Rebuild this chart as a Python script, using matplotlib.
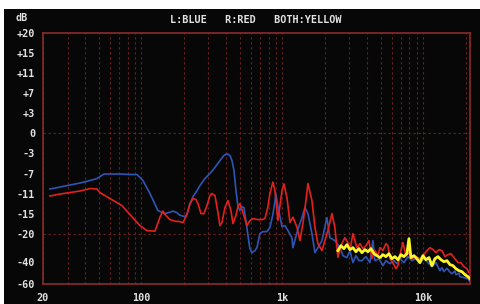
import matplotlib

matplotlib.use("Agg")
import matplotlib.pyplot as plt
import numpy as np
from matplotlib.patches import Rectangle
from matplotlib.ticker import FixedLocator, LogLocator, NullFormatter

# dB scale of the analyser: irregular steps
DB_TICKS = [20, 15, 11, 7, 3, 0, -3, -7, -11, -15, -20, -40, -60]
DB_LABELS = ["+20", "+15", "+11", "+7", "+3", "0", "-3", "-7", "-11", "-15", "-20", "-40", "-60"]
TICK_ROWS = [0, 1, 2, 3, 4, 5, 6, 7, 8, 9, 10, 11.4, 12.5]

FREQ_TICKS = [20, 100, 1000, 10000]
FREQ_LABELS = ["20", "100", "1k", "10k"]

# left channel (blue)
left_freq = [22.5, 26.5, 31.1, 36.8, 43.3, 48.5, 54.4, 60, 70.6, 83.2, 93.3, 102.9, 115.4, 131.4,
             147, 157, 168, 179, 188, 204, 211, 222, 233, 249, 261, 283, 307, 333, 362, 386, 406,
             426, 440, 455, 470, 485, 501, 518, 535, 553, 572, 590, 610, 641, 662, 695, 730, 779,
             818, 859, 903, 933, 997, 1046, 1099, 1172, 1192, 1273, 1380, 1450, 1523, 1626, 1707,
             1793, 1915, 2076, 2180, 2366, 2570,
             2697, 2879, 3024, 3176, 3335, 3503, 3679, 3928, 4193, 4403, 4550, 4857, 5185, 5445,
             5813, 6206, 6518, 6845, 7307, 7801, 8328, 8890, 9491, 10131, 10816, 11547, 12327,
             13160, 13597, 14048, 14754, 15496, 16011, 16815, 17091, 17950, 18247, 19479, 20794,
             21486]
left_db = [-10.1, -9.7, -9.3, -8.9, -8.4, -8.0, -7.1, -7.1, -7.1, -7.2, -7.2, -8.4, -11.0, -14.4,
           -15.0, -14.8, -14.5, -14.8, -15.4, -15.75, -15.25, -13.0, -11.6, -10.4, -9.4, -8.0, -7.0,
           -5.8, -4.4, -3.4, -3.06, -3.4, -4.4, -6.4, -10.4, -13.4, -14.4, -13.6, -13.8, -16.75,
           -21.4, -30.7, -33.6, -32.1, -30.0, -20.0, -19.5, -19.5, -18.5, -15.25, -11.2, -13.6,
           -18.25, -18.0, -19.25, -22.9, -30.0, -19.75, -16.0, -13.8, -15.0, -20.0, -33.6, -30.0,
           -25.0, -16.0, -22.9, -25.0, -30.0,
           -35.7, -37.1, -32.1, -40.9, -35.7, -39.3, -39.3, -36.4, -40.9, -25.0, -39.3, -37.9,
           -43.6, -39.3, -41.8, -39.3, -41.8, -37.9, -40.9, -36.4, -39.3, -37.9, -40.9, -37.9,
           -40.9, -44.5, -40.9, -48.2, -45.5, -49.0, -46.0, -49.5, -50.9, -48.5, -51.8, -50.5,
           -53.6, -54.5, -55.5, -58.2]

# right channel (red)
right_freq = [22.5, 26.5, 31.1, 36.8, 43.3, 48.5, 50.9, 60, 73, 83.2, 98, 109.8, 125.2, 135.8,
              142.6, 149.8, 160, 173.6, 188.2, 197.8, 211, 221.7, 232.8, 244.6, 252.6, 265.4,
              278.6, 292.6, 307.4, 317.5, 333.4, 350.2, 361.8, 373.8, 392.6, 412.4, 433, 447.4,
              470, 485, 501, 526.8, 562.3, 590, 620, 673, 718.6, 754.8, 792.6, 818, 859, 888, 933,
              997, 1029, 1081, 1135, 1192, 1273, 1336, 1403, 1474, 1523, 1626, 1707, 1793, 1915,
              2010, 2110, 2254, 2366, 2485, 2652,
              2787, 2926, 3024, 3176, 3390, 3561, 3740, 3928, 4125, 4332, 4550, 4778, 4937, 5185,
              5445, 5626, 5813, 6105, 6412, 6625, 6958, 7188, 7550, 7929, 8328, 8890, 9491, 10131,
              10640, 11176, 11737, 12327, 12946, 13597, 14280, 14997, 15751, 16815, 17659, 18547,
              19479, 20457, 21136]
right_db = [-11.5, -11.1, -10.8, -10.5, -10.0, -10.1, -10.8, -12.0, -13.4, -15.25, -18.0, -19.25,
            -19.4, -15.9, -14.5, -15.5, -16.5, -16.9, -17.0, -17.25, -15.25, -13.0, -12.0, -12.2,
            -13.0, -15.0, -15.0, -13.4, -11.4, -11.0, -11.4, -14.8, -18.0, -17.25, -13.8, -12.4,
            -14.4, -17.5, -15.5, -13.6, -13.0, -14.8, -18.0, -16.75, -16.25, -16.5, -16.5, -16.25,
            -13.6, -11.0, -8.7, -10.4, -16.75, -10.4, -9.1, -11.8, -17.2, -15.9, -18.4, -25.0,
            -17.5, -12.4, -9.0, -12.4, -18.4, -27.1, -32.1, -25.0, -19.25, -15.0, -18.5, -36.9,
            -27.1,
            -22.9, -26.4, -32.1, -20.0, -30.0, -27.1, -30.7, -28.6, -25.0, -37.9, -32.1, -35.7,
            -30.0, -32.1, -27.1, -28.6, -37.9, -40.9, -46.4, -43.6, -32.1, -26.4, -35.7, -33.6,
            -37.9, -36.4, -37.9, -35.0, -32.1, -30.0, -31.4, -33.6, -31.4, -32.1, -36.4, -35.0,
            -34.3, -37.9, -40.9, -40.9, -44.5, -46.4, -50.0]

# both channels together (yellow), high band only
both_freq = [2485, 2610, 2741, 2879, 3024, 3176, 3335, 3503, 3679, 3864, 4058, 4262, 4476, 4701,
             4937, 5185, 5445, 5719, 6006, 6308, 6625, 6958, 7307, 7674, 7929, 8193, 8605, 9037,
             9491, 9967, 10468, 10994, 11547, 12128, 12736, 13376, 14048, 14754, 15496, 16274,
             17091, 17950, 18853, 19800, 20794, 21486]
both_db = [-32.1, -28.6, -30.7, -27.9, -31.4, -30.0, -32.9, -30.7, -33.6, -31.4, -32.9, -30.7,
           -34.3, -35.7, -37.1, -35.0, -36.4, -34.3, -37.9, -36.4, -38.6, -35.0, -36.4, -34.3,
           -23.6, -37.1, -35.7, -37.9, -40.9, -35.7, -38.6, -37.1, -43.6, -37.9, -36.4, -38.6,
           -40.0, -39.3, -42.7, -43.6, -46.4, -48.2, -49.1, -51.8, -53.6, -55.5]

BG = "#070707"
FRAME = "#8c2a2a"
GRID = "#6e2020"
TEXT = "#e2e2e2"
FONT = "DejaVu Sans Mono"

db_asc = DB_TICKS[::-1]
pos_asc = [-r for r in TICK_ROWS[::-1]]


def _fwd(v):
    return np.interp(v, db_asc, pos_asc)


def _inv(p):
    return np.interp(p, pos_asc, db_asc)


fig = plt.figure(figsize=(4.81, 3.04), dpi=100)
fig.patch.set_facecolor(BG)
# white margin along the top and left edge of the screenshot
fig.patches.append(Rectangle((0, 1 - 9 / 304), 1, 9 / 304, transform=fig.transFigure,
                             facecolor="white", edgecolor="none", zorder=-5))
fig.patches.append(Rectangle((0, 0), 4 / 481, 1, transform=fig.transFigure,
                             facecolor="white", edgecolor="none", zorder=-5))

ax = fig.add_axes([42.7 / 481, 1 - 283.7 / 304, (470 - 42.7) / 481, (283.7 - 33.3) / 304])
ax.set_facecolor(BG)
ax.set_xscale("log")
ax.set_yscale("function", functions=(_fwd, _inv))
ax.set_xlim(20, 21500)
ax.set_ylim(-60, 20)

ax.xaxis.set_major_locator(FixedLocator(FREQ_TICKS))
ax.set_xticklabels(FREQ_LABELS)
ax.xaxis.set_minor_locator(LogLocator(base=10, subs=range(1, 10)))
ax.xaxis.set_minor_formatter(NullFormatter())
ax.set_yticks(DB_TICKS)
ax.set_yticklabels(DB_LABELS)
ax.yaxis.set_minor_locator(FixedLocator([]))

ax.tick_params(axis="both", which="both", length=0, colors=TEXT, labelsize=7.3)
ax.tick_params(axis="y", pad=5.5)
ax.tick_params(axis="x", pad=6.5)
for lab in ax.get_xticklabels() + ax.get_yticklabels():
    lab.set_family(FONT)
    lab.set_fontweight("bold")

ax.grid(True, axis="x", which="both", color=GRID, linestyle=(0, (2, 2.5)), linewidth=0.8)
for lvl in (0, -20):
    ax.axhline(lvl, color=GRID, linestyle=(0, (2, 2.5)), linewidth=0.8)

for side in ax.spines.values():
    side.set_color(FRAME)
    side.set_linewidth(1.2)

ax.plot(left_freq, left_db, color="#2f55b4", linewidth=1.2, zorder=3)
ax.plot(right_freq, right_db, color="#e3211c", linewidth=1.2, zorder=4)
ax.plot(both_freq, both_db, color="#fbf72a", linewidth=2.0, zorder=5)

fig.text(16 / 481, 1 - 18 / 304, "dB", color=TEXT, fontsize=7.3, family=FONT,
         fontweight="bold", ha="left", va="center")
fig.text(170 / 481, 1 - 20 / 304, "L:BLUE   R:RED   BOTH:YELLOW", color=TEXT, fontsize=7.3,
         family=FONT, fontweight="bold", ha="left", va="center")

fig.savefig("out.png", dpi=100, facecolor=fig.get_facecolor())
